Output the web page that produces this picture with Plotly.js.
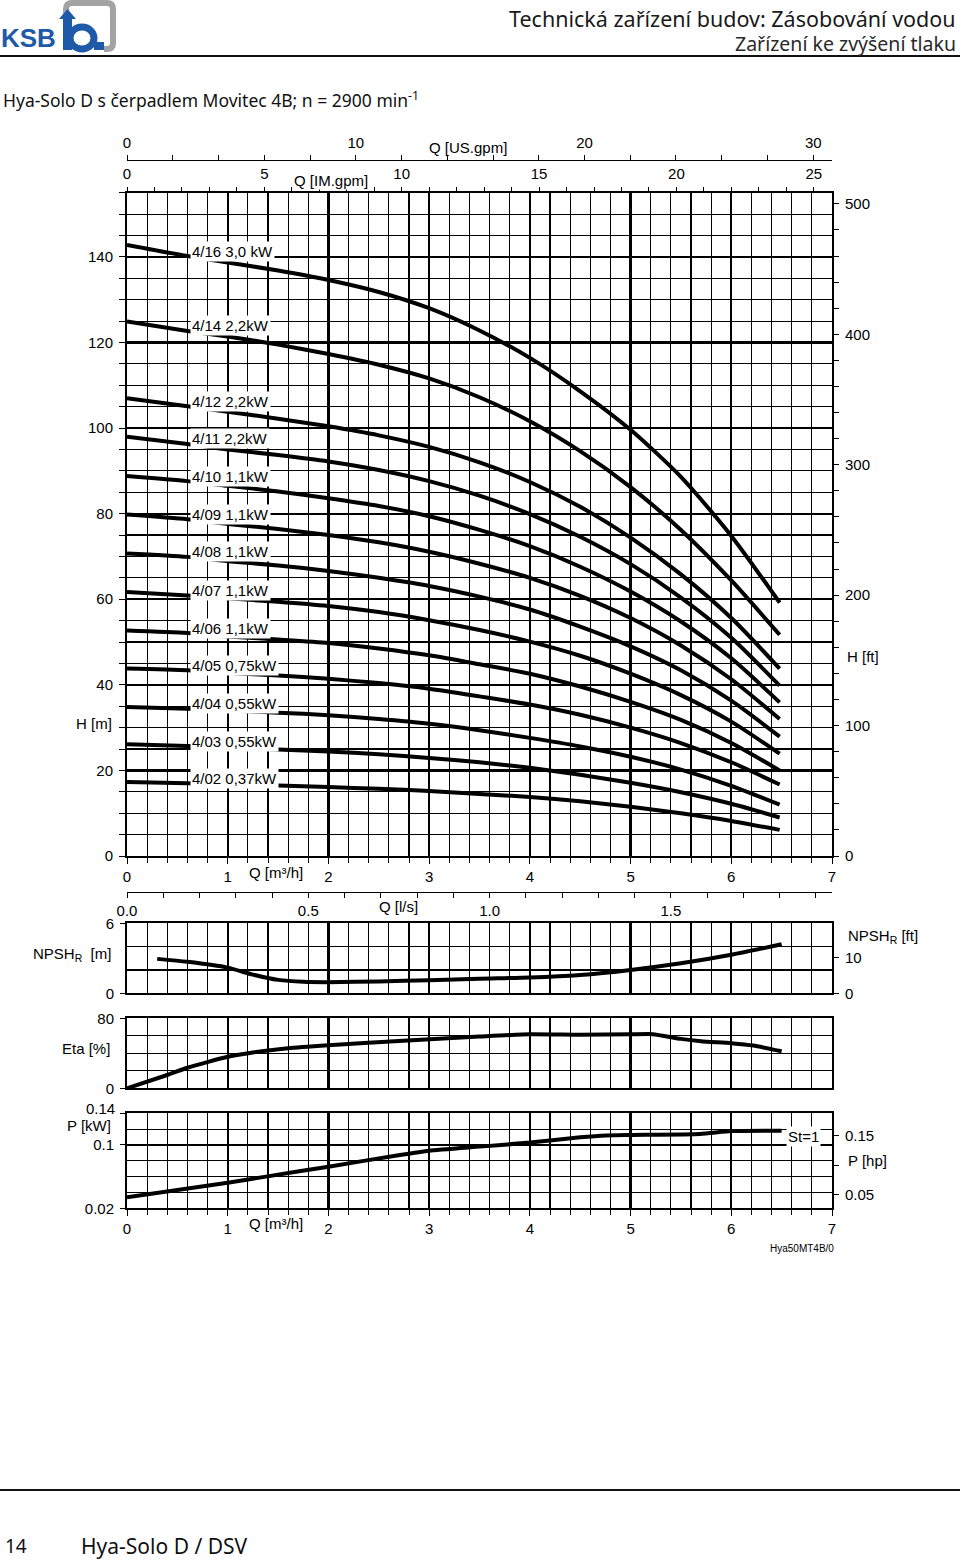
<!DOCTYPE html>
<html><head><meta charset="utf-8">
<script src="https://cdn.plot.ly/plotly-3.0.1.min.js"></script>
<style>html,body{margin:0;padding:0;background:#fff;}#chart{width:960px;height:1560px;}</style>
</head><body><div id="chart"></div>
<script>
// ---------- DATA ----------
const qH = [0, 0.6, 1, 1.5, 2, 2.5, 3, 3.5, 4, 4.5, 5, 5.5, 6, 6.48];
const h416 = [142.8, 140.2, 138.7, 136.8, 134.6, 131.8, 128.0, 122.8, 116.4, 108.6, 99.6, 88.6, 74.8, 59.2];
const h414 = [124.9, 122.7, 121.4, 119.5, 117.3, 114.8, 111.6, 107.2, 101.6, 94.6, 86.2, 76.2, 64.4, 51.7];
const h412 = [107.0, 105.1, 103.8, 102.2, 100.4, 98.3, 95.6, 92.0, 87.4, 81.6, 74.4, 65.8, 55.6, 43.8];
const h411 = [98.0, 96.3, 95.0, 93.7, 92.2, 90.2, 87.6, 84.2, 79.9, 74.6, 68.2, 60.4, 51.0, 39.8];
const h410 = [88.8, 87.6, 86.5, 85.2, 83.6, 81.8, 79.4, 76.2, 72.4, 67.6, 61.8, 54.8, 46.2, 35.9];
const h409 = [79.8, 78.7, 77.6, 76.4, 75.0, 73.3, 71.1, 68.3, 65.0, 60.8, 55.6, 49.2, 41.3, 32.0];
const h408 = [70.7, 69.9, 68.9, 67.9, 66.6, 65.0, 63.1, 60.6, 57.6, 53.6, 49.0, 43.4, 36.3, 27.9];
const h407 = [61.7, 60.9, 60.2, 59.4, 58.4, 57.0, 55.1, 52.8, 50.1, 46.8, 42.6, 37.6, 31.4, 23.9];
const h406 = [52.7, 52.1, 51.3, 50.6, 49.8, 48.5, 46.9, 44.8, 42.6, 39.6, 36.0, 31.8, 26.4, 20.0];
const h405 = [43.8, 43.4, 42.8, 42.2, 41.4, 40.4, 39.1, 37.3, 35.4, 33.0, 30.0, 26.4, 21.9, 16.7];
const h404 = [34.8, 34.4, 34.0, 33.5, 32.9, 32.0, 30.9, 29.4, 27.6, 25.6, 23.2, 20.2, 16.4, 12.0];
const h403 = [26.1, 25.7, 25.4, 24.9, 24.4, 23.8, 22.9, 21.9, 20.6, 19.0, 17.1, 14.9, 12.2, 9.0];
const h402 = [17.3, 17.0, 16.8, 16.5, 16.1, 15.7, 15.2, 14.5, 13.8, 12.8, 11.5, 10.0, 8.2, 6.1];
const curveNames = ['4/16 3,0 kW','4/14 2,2kW','4/12 2,2kW','4/11 2,2kW','4/10 1,1kW','4/09 1,1kW','4/08 1,1kW','4/07 1,1kW','4/06 1,1kW','4/05 0,75kW','4/04 0,55kW','4/03 0,55kW','4/02 0,37kW'];
const curveHeads = [h416,h414,h412,h411,h410,h409,h408,h407,h406,h405,h404,h403,h402];

const qNpsh = [0.3, 0.6, 1.0, 1.25, 1.5, 1.75, 2.0, 2.5, 3.0, 3.5, 4.0, 4.5, 5.0, 5.5, 6.0, 6.5];
const npsh  = [2.95, 2.7, 2.2, 1.6, 1.15, 0.98, 0.95, 1.02, 1.12, 1.25, 1.35, 1.57, 2.0, 2.57, 3.3, 4.2];

const qEta = [0, 0.4, 0.6, 1.0, 1.25, 1.6, 2.0, 2.7, 3.5, 4.0, 4.5, 5.0, 5.22, 5.5, 5.7, 6.0, 6.22, 6.5];
const eta  = [0, 15.2, 23.5, 36.0, 41.0, 45.8, 49.2, 54.1, 59.1, 61.8, 61.2, 61.7, 61.9, 56.5, 53.8, 51.6, 48.8, 42.3];

const qP = [0, 1.0, 1.38, 2.0, 2.71, 3.0, 3.5, 4.0, 4.5, 4.76, 5.0, 5.69, 6.0, 6.5];
const pKw = [0.0340, 0.0524, 0.0600, 0.0726, 0.0874, 0.0928, 0.0979, 0.1030, 0.1097, 0.1120, 0.1126, 0.1139, 0.1175, 0.1181];

// ---------- HELPERS ----------
const F = 'Liberation Sans, Arial, sans-serif';
const HF = 'Noto Sans, Open Sans, sans-serif';
const W = 960, HT = 1560;
const px = p => p / W;
const py = p => 1 - p / HT;
const X0 = px(127), X1 = px(832);
const BLK = '#000';

function A(x, y, text, opts) {
  return Object.assign({xref:'paper', yref:'paper', x:px(x), y:py(y), text:text, showarrow:false,
    xanchor:'center', yanchor:'middle', font:{family:F, size:15, color:BLK}}, opts || {});
}

function qAxis(anchor, labels) {
  return {domain:[X0, X1], anchor:anchor, range:[0, 7], tick0:0, dtick:1,
    showgrid:true, gridcolor:BLK, gridwidth:2.2, zeroline:false,
    showline:true, linecolor:BLK, linewidth:2, mirror:true,
    ticks: labels ? 'outside' : '', ticklen:6, tickcolor:BLK, tickwidth:1,
    showticklabels: labels, tickfont:{family:F, size:15, color:BLK}, ticklabelstandoff:0,
    minor:{dtick:0.2, showgrid:true, gridcolor:BLK, gridwidth:1.1, ticks: labels ? 'outside' : '', ticklen:5, tickcolor:BLK},
    fixedrange:true};
}

// ---------- TRACES ----------
const traces = [];
curveHeads.forEach((h, i) => {
  traces.push({x:qH, y:h, xaxis:'x', yaxis:'y', mode:'lines', name:curveNames[i],
    line:{color:BLK, width:4, shape:'spline', smoothing:0.7}, hoverinfo:'skip', showlegend:false});
});
traces.push({x:qNpsh, y:npsh, xaxis:'x4', yaxis:'y3', mode:'lines', line:{color:BLK, width:4, shape:'spline', smoothing:0.7}, hoverinfo:'skip', showlegend:false});
traces.push({x:qEta, y:eta, xaxis:'x6', yaxis:'y5', mode:'lines', line:{color:BLK, width:4, shape:'spline', smoothing:0.5}, hoverinfo:'skip', showlegend:false});
traces.push({x:qP, y:pKw, xaxis:'x7', yaxis:'y6', mode:'lines', line:{color:BLK, width:4, shape:'spline', smoothing:0.5}, hoverinfo:'skip', showlegend:false});
// invisible carriers for secondary axes
[['x2','y'],['x3','y'],['x','y2'],['x4','y4'],['x5','y3'],['x7','y7']].forEach(a => {
  traces.push({x:[null], y:[null], xaxis:a[0], yaxis:a[1], mode:'markers', marker:{opacity:0}, hoverinfo:'skip', showlegend:false});
});

// ---------- LAYOUT ----------
const tf = {family:F, size:15, color:BLK};
const layout = {
  width:W, height:HT, margin:{l:0, r:0, t:0, b:0},
  paper_bgcolor:'#fff', plot_bgcolor:'#fff', showlegend:false,
  font:{family:F, color:BLK},
  xaxis: qAxis('y', true),
  xaxis2: {overlaying:'x', anchor:'y', side:'top', range:[0, 7/0.272765], tickvals:[0,5,10,15,20,25],
    ticks:'outside', ticklen:5, tickcolor:BLK, showgrid:false, zeroline:false, showline:false,
    tickfont:tf, ticklabelstandoff:2, minor:{dtick:1, ticks:'outside', ticklen:5, tickcolor:BLK}, fixedrange:true},
  xaxis3: {overlaying:'x', anchor:'free', position:py(159.5), side:'top', range:[0, 7/0.227125], tickvals:[0,10,20,30],
    ticks:'outside', ticklen:5, tickcolor:BLK, showgrid:false, zeroline:false, showline:true, linecolor:BLK, linewidth:1.5,
    tickfont:tf, ticklabelstandoff:1, minor:{dtick:2, ticks:'outside', ticklen:5, tickcolor:BLK}, fixedrange:true},
  yaxis: {domain:[py(856), py(192.7)], anchor:'x', range:[0, 155], tickvals:[0,20,40,60,80,100,120,140],
    showgrid:true, gridcolor:BLK, gridwidth:2.2, zeroline:false, showline:true, linecolor:BLK, linewidth:2, mirror:true,
    ticks:'outside', ticklen:6, tickcolor:BLK, tickfont:tf, ticklabelstandoff:3,
    minor:{tick0:0, dtick:5, showgrid:true, gridcolor:BLK, gridwidth:1.1, ticks:'outside', ticklen:6, tickcolor:BLK}, fixedrange:true},
  yaxis2: {overlaying:'y', anchor:'x', side:'right', range:[0, 155/0.3048], tickvals:[0,100,200,300,400,500],
    showgrid:false, zeroline:false, showline:false, ticks:'outside', ticklen:6, tickcolor:BLK, tickfont:tf, ticklabelstandoff:3,
    minor:{dtick:20, ticks:'outside', ticklen:6, tickcolor:BLK}, fixedrange:true},

  xaxis4: qAxis('y3', false),
  yaxis3: {domain:[py(993.3), py(923.3)], anchor:'x4', range:[0, 6], tickvals:[0,6],
    showgrid:false, zeroline:false, showline:true, linecolor:BLK, linewidth:2, mirror:true,
    ticks:'outside', ticklen:5, tickcolor:BLK, tickfont:tf, ticklabelstandoff:3,
    minor:{tick0:0, dtick:2, showgrid:true, gridcolor:BLK, gridwidth:1.1}, fixedrange:true},
  yaxis4: {overlaying:'y3', anchor:'x4', side:'right', range:[0, 6/0.3048], tickvals:[0,10],
    showgrid:false, zeroline:false, showline:false, ticks:'outside', ticklen:6, tickcolor:BLK, tickfont:tf, ticklabelstandoff:3, fixedrange:true},
  xaxis5: {overlaying:'x4', anchor:'free', position:py(891.7), side:'bottom', range:[0, 7/3.6],
    tickvals:[0,0.5,1.0,1.5], ticktext:['0.0','0.5','1.0','1.5'],
    ticks:'outside', ticklen:5, tickcolor:BLK, showgrid:false, zeroline:false, showline:true, linecolor:BLK, linewidth:1.5,
    tickfont:tf, ticklabelstandoff:0, minor:{dtick:0.1, ticks:'outside', ticklen:5, tickcolor:BLK}, fixedrange:true},

  xaxis6: qAxis('y5', false),
  yaxis5: {domain:[py(1088.3), py(1018.3)], anchor:'x6', range:[0, 80], tickvals:[0,80],
    showgrid:false, zeroline:false, showline:true, linecolor:BLK, linewidth:2, mirror:true,
    ticks:'outside', ticklen:5, tickcolor:BLK, tickfont:tf, ticklabelstandoff:3,
    minor:{tick0:0, dtick:20, showgrid:true, gridcolor:BLK, gridwidth:1.1}, fixedrange:true},

  xaxis7: qAxis('y6', true),
  yaxis6: {domain:[py(1208.3), py(1113.3)], anchor:'x7', range:[0.02, 0.14], tickvals:[0.02,0.1,0.14], ticktext:['0.02','0.1',' '],
    showgrid:false, zeroline:false, showline:true, linecolor:BLK, linewidth:2, mirror:true,
    ticks:'outside', ticklen:5, tickcolor:BLK, tickfont:tf, ticklabelstandoff:3,
    minor:{tick0:0, dtick:0.02, showgrid:true, gridcolor:BLK, gridwidth:1.1}, fixedrange:true},
  yaxis7: {overlaying:'y6', anchor:'x7', side:'right', range:[0.02/0.7457, 0.14/0.7457], tickvals:[0.05,0.1,0.15], ticktext:['0.05',' ','0.15'],
    showgrid:false, zeroline:false, showline:false, ticks:'outside', ticklen:6, tickcolor:BLK, tickfont:tf, ticklabelstandoff:3, fixedrange:true},

  annotations: [],
  shapes: []
};

// curve labels, anchored to each curve's second point
curveHeads.forEach((h, i) => {
  layout.annotations.push({xref:'x', yref:'y', x:qH[1] + 0.03, y:h[1], yshift:5, text:curveNames[i], showarrow:false,
    xanchor:'left', yanchor:'middle', bgcolor:'#fff', borderpad:1, font:{family:F, size:15, color:BLK}});
});

layout.annotations.push(
  A(958, 19, 'Technická zařízení budov: Zásobování vodou', {xanchor:'right', font:{family:HF, size:21.5, color:'#1a1a1a'}}),
  A(958, 43, 'Zařízení ke zvýšení tlaku', {xanchor:'right', font:{family:HF, size:19.5, color:'#2a2a2a'}}),
  A(1, 100, 'Hya-Solo D s čerpadlem Movitec 4B; n = 2900 min<sup>-1</sup>', {xanchor:'left', font:{family:HF, size:17.5, color:'#111'}}),
  A(-1, 38, '<b>KSB</b>', {xanchor:'left', font:{family:'Liberation Sans, Arial', size:26, color:'#1e5aa8'}}),
  A(3, 1546, '14', {xanchor:'left', font:{family:HF, size:19, color:'#111'}}),
  A(79, 1546, 'Hya-Solo D / DSV', {xanchor:'left', font:{family:HF, size:21, color:'#111'}}),
  A(468, 147, 'Q [US.gpm]'),
  A(331, 180, 'Q [IM.gpm]', {bgcolor:'#fff', borderpad:0}),
  A(276, 872, 'Q [m³/h]'),
  A(94, 723, 'H [m]'),
  A(863, 656, 'H [ft]'),
  A(398, 906, 'Q [l/s]'),
  A(113, 954, 'NPSH<sub>R</sub>  [m]', {xanchor:'right'}),
  A(846, 936, 'NPSH<sub>R</sub> [ft]', {xanchor:'left'}),
  A(112, 1048, 'Eta [%]', {xanchor:'right'}),
  A(117, 1108, '0.14', {xanchor:'right'}),
  A(113, 1125, 'P [kW]', {xanchor:'right'}),
  A(846, 1160, 'P [hp]', {xanchor:'left'}),
  A(803, 1136, 'St=1', {bgcolor:'#fff', borderpad:1}),
  A(276, 1223, 'Q [m³/h]'),
  A(802, 1248, 'Hya50MT4B/0', {font:{family:F, size:10, color:BLK}})
);

// rules and logo
const P = (x, y) => px(x) + ',' + py(y);
layout.shapes.push(
  {type:'line', xref:'paper', yref:'paper', x0:0, x1:1, y0:py(56), y1:py(56), line:{color:'#111', width:2}},
  {type:'line', xref:'paper', yref:'paper', x0:0, x1:1, y0:py(1490), y1:py(1490), line:{color:'#111', width:2}},
  {type:'path', xref:'paper', yref:'paper', path:'M '+P(66,14)+' L '+P(66,9)+' Q '+P(66,3)+' '+P(72,3)+' L '+P(107,3)+' Q '+P(113,3)+' '+P(113,9)+' L '+P(113,43)+' Q '+P(113,49)+' '+P(107,49)+' L '+P(104,49),
    line:{color:'#a3a3a3', width:6}},
  {type:'rect', xref:'paper', yref:'paper', x0:px(63), x1:px(72), y0:py(50), y1:py(17), fillcolor:'#1e5aa8', line:{width:0}},
  {type:'path', xref:'paper', yref:'paper', path:'M '+P(59,19)+' L '+P(67.5,9)+' L '+P(76,19)+' Z', fillcolor:'#1e5aa8', line:{width:0}},
  {type:'circle', xref:'paper', yref:'paper', x0:px(70), x1:px(94), y0:py(49), y1:py(27), fillcolor:'rgba(0,0,0,0)', line:{color:'#1e5aa8', width:7}},
  {type:'rect', xref:'paper', yref:'paper', x0:px(94), x1:px(104), y0:py(50), y1:py(42), fillcolor:'#1e5aa8', line:{width:0}}
);

Plotly.newPlot('chart', traces, layout, {staticPlot:true, displayModeBar:false});
</script>
</body></html>
